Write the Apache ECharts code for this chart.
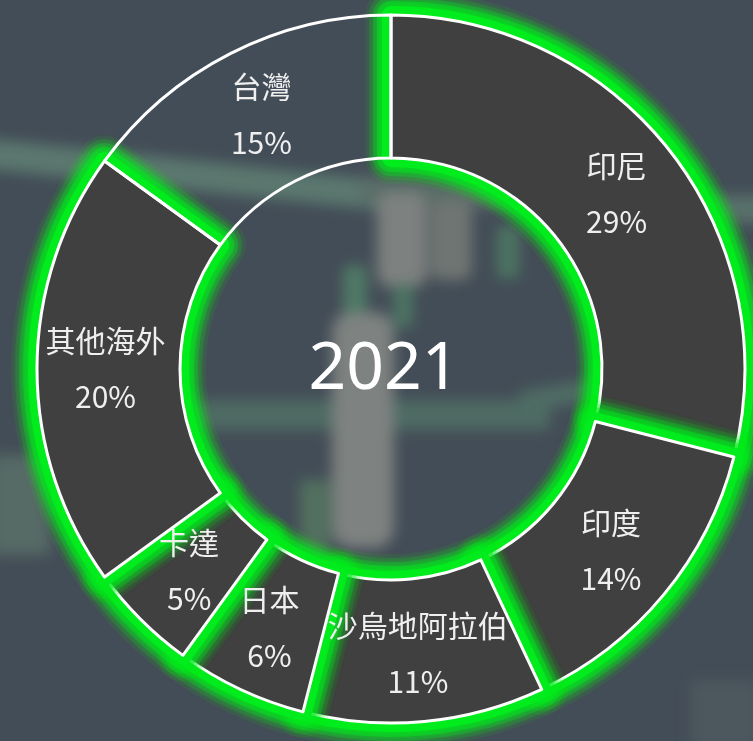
<!DOCTYPE html>
<html>
<head>
<meta charset="utf-8">
<script src="https://cdn.jsdelivr.net/npm/echarts@6/dist/echarts.min.js"></script>
<style>
  html, body { margin: 0; padding: 0; background: #434d57; overflow: hidden; }
  #bg { position: absolute; left: 0; top: 0; width: 753px; height: 741px; filter: blur(7px); }
  #bg div { position: absolute; }
  #chart { position: absolute; left: 0; top: 0; width: 753px; height: 741px; }
</style>
</head>
<body>
<!-- blurred stock-chart backdrop, decoration only -->
<div id="bg">
  <div style="left:-20px;top:138px;width:420px;height:30px;background:#5b786f;transform:rotate(6deg);transform-origin:left"></div>
  <div style="left:360px;top:182px;width:260px;height:26px;background:#5a6e68;transform:rotate(3deg)"></div>
  <div style="left:690px;top:195px;width:80px;height:28px;background:#58706a"></div>
  <div style="left:190px;top:400px;width:360px;height:30px;background:#4e6b63"></div>
  <div style="left:520px;top:380px;width:130px;height:22px;background:#4f6c64;transform:rotate(-10deg)"></div>
  <div style="left:343px;top:265px;width:24px;height:60px;background:#4f7a66;border-radius:8px"></div>
  <div style="left:332px;top:312px;width:62px;height:236px;background:#7e8280;border-radius:20px"></div>
  <div style="left:377px;top:192px;width:50px;height:95px;background:#7d817f;border-radius:14px"></div>
  <div style="left:393px;top:285px;width:20px;height:42px;background:#4c7462"></div>
  <div style="left:430px;top:200px;width:42px;height:80px;background:#6f7572;border-radius:10px"></div>
  <div style="left:497px;top:226px;width:22px;height:52px;background:#4c7462"></div>
  <div style="left:300px;top:480px;width:30px;height:120px;background:#52705f"></div>
  <div style="left:-10px;top:455px;width:60px;height:100px;background:#566a66"></div>
  <div style="left:690px;top:680px;width:70px;height:70px;background:#4d575e"></div>
</div>
<div id="chart"></div>
<script>
// 2021 share by region
const regions = ['印尼', '印度', '沙烏地阿拉伯', '日本', '卡達', '其他海外', '台灣']
const shares = [29, 14, 11, 6, 5, 20, 15]
const centerTitle = '2021'
const noGlow = ['台灣'] // see-through slice without the green halo

// halo rings, widest/faintest first
const halo = [
  { width: 52, alpha: 0.08 },
  { width: 44, alpha: 0.14 },
  { width: 36, alpha: 0.25 },
  { width: 28, alpha: 0.4 },
  { width: 18, alpha: 1 },
]
const hidden = { color: 'none', borderWidth: 0, shadowBlur: 0, shadowColor: 'rgba(0,0,0,0)' }

const base = {
  type: 'pie',
  center: [391, 369],
  radius: [211, 354],
  startAngle: 90,
  clockwise: true,
  avoidLabelOverlap: false,
  silent: true,
  label: { show: false },
  labelLine: { show: false },
  emphasis: { disabled: true },
}

// one layer per slice: only slice `k` is visible, others kept for the angles
function layer(k, style) {
  return Object.assign({}, base, {
    data: regions.map((name, i) => ({
      name,
      value: shares[i],
      itemStyle: i === k ? style : hidden,
    })),
  })
}

const series = []
regions.forEach((name, k) => {
  const glow = !noGlow.includes(name)
  if (glow) {
    halo.forEach(h => {
      const c = `rgba(0,236,28,${h.alpha})`
      series.push(layer(k, {
        color: 'none',
        borderColor: c,
        borderWidth: h.width,
        borderJoin: 'round',
        shadowBlur: 14,
        shadowColor: c,
      }))
    })
  }
  series.push(layer(k, {
    color: glow ? '#404040' : 'none',
    borderColor: '#ffffff',
    borderWidth: 3,
  }))
})

// labels on top
series.push(Object.assign({}, base, {
  label: {
    show: true,
    position: 'inside',
    formatter: '{b}\n{c}%',
    color: '#efefef',
    fontSize: 30,
    lineHeight: 56,
    fontFamily: '"Noto Sans CJK TC", "Noto Sans", sans-serif',
  },
  data: regions.map((name, i) => ({ name, value: shares[i], itemStyle: hidden })),
}))

const chart = echarts.init(document.getElementById('chart'))
chart.setOption({
  backgroundColor: 'transparent',
  animation: false,
  graphic: [{
    type: 'text',
    x: 384,
    y: 370,
    style: {
      text: centerTitle,
      fill: '#ffffff',
      font: '66px "Noto Sans", sans-serif',
      textAlign: 'center',
      textVerticalAlign: 'middle',
    },
    z: 10,
  }],
  series,
})
</script>
</body>
</html>
